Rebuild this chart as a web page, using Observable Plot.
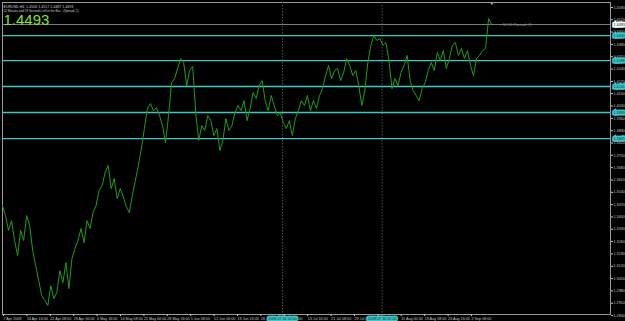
<!DOCTYPE html>
<html><head><meta charset="utf-8">
<script src="https://cdn.jsdelivr.net/npm/d3@7"></script>
<script src="https://cdn.jsdelivr.net/npm/@observablehq/plot@0.6"></script>
<style>html,body{margin:0;padding:0;background:#000;overflow:hidden}</style>
</head><body><div id="chart"></div>
<script>
// EURUSD H4 closes, sampled every 4 bars
const closes = [
1.3465,1.3408,1.3323,1.3379,1.3266,1.3181,1.3323,1.3266,1.3408,1.3351,
1.3209,1.3124,1.3039,1.2953,1.2925,1.2897,1.3010,1.2936,1.2970,1.3095,
1.3027,1.3141,1.2993,1.3164,1.3220,1.3266,1.3334,1.3254,1.3379,1.3334,
1.3425,1.3465,1.3550,1.3578,1.3652,1.3692,1.3561,1.3618,1.3504,1.3561,
1.3516,1.3459,1.3425,1.3521,1.3607,1.3692,1.3788,1.3902,1.4016,1.4044,
1.4004,1.4021,1.3976,1.3919,1.3822,1.3976,1.4163,1.4186,1.4243,1.4300,
1.4277,1.4146,1.4232,1.4254,1.3993,1.3834,1.3919,1.3891,1.3976,1.3947,
1.3862,1.3902,1.3777,1.3834,1.3959,1.3891,1.3919,1.3993,1.4033,1.4004,
1.4061,1.3947,1.4016,1.4107,1.4073,1.4146,1.4175,1.4061,1.4004,1.4090,
1.4033,1.3976,1.3993,1.3936,1.3902,1.3947,1.3862,1.3959,1.4004,1.4061,
1.4033,1.4090,1.4004,1.4061,1.4016,1.4090,1.4129,1.4203,1.4260,1.4186,
1.4232,1.4243,1.4175,1.4220,1.4300,1.4260,1.4203,1.4232,1.4146,1.4033,
1.4118,1.4277,1.4374,1.4430,1.4402,1.4413,1.4374,1.4391,1.4288,1.4129,
1.4186,1.4146,1.4220,1.4260,1.4317,1.4175,1.4118,1.4090,1.4061,1.4129,
1.4163,1.4232,1.4277,1.4232,1.4334,1.4288,1.4345,1.4243,1.4300,1.4374,
1.4391,1.4317,1.4357,1.4300,1.4345,1.4260,1.4203,1.4300,1.4317,1.4345,
1.4357,1.4527,1.4493
];
const barStep = 4;
const xLabels = ["7 Apr 2009","14 Apr 16:00","22 Apr 08:00","29 Apr 00:00","6 May 16:00","14 May 08:00","21 May 00:00","28 May 16:00","5 Jun 08:00","12 Jun 00:00","19 Jun 16:00","26 Jun 08:00","2 Jul 00:00","13 Jul 16:00","21 Jul 08:00","29 Jul 00:00","5 Aug 16:00","11 Aug 00:00","19 Aug 08:00","26 Aug 16:00","2 Sep 08:00"];
const xLabelBars = [0,31,62,93,124,155,186,217,248,279,310,341,372,403,434,465,496,527,558,589,620];
const yTicks = [1.2840,1.2910,1.2980,1.3050,1.3120,1.3190,1.3260,1.3330,1.3400,1.3470,1.3540,1.3610,1.3680,1.3750,1.3820,1.3890,1.3960,1.4030,1.4100,1.4170,1.4240,1.4310,1.4380,1.4450,1.4520,1.4590];
const levels = [1.4430,1.4288,1.4141,1.3993,1.3845];
const bid = 1.4493;
const vLineBars = [371, 503];
const vLineLabels = ["2009.07.06 00:00","2009.07.30 00:00"];
const title1 = "EURUSD,H4  1.4506 1.4517 1.4487 1.4493";
const title2 = "52 Minutes and 53 Seconds Left in the Bar... (Spread: 2)";
const spreadText = "< 52:53 (Spread: 2)";

const data = closes.map((c, i) => ({bar: i * barStep, close: c}));
const lastBar = data[data.length - 1].bar;
const labelMap = new Map(xLabelBars.map((b, i) => [b, xLabels[i]]));
const fs = 3.7;

const chart = Plot.plot({
  width: 625, height: 321,
  marginLeft: 2, marginRight: 15, marginTop: 2, marginBottom: 7,
  style: {background: "#000", fontFamily: "Liberation Sans, Arial, sans-serif", color: "#c8c8c8"},
  x: {domain: [0, 805.5], axis: null},
  y: {domain: [1.2846, 1.4618], axis: null},
  marks: [
    Plot.frame({stroke: "#9a9a9a", strokeWidth: 1}),
    Plot.ruleX(vLineBars, {stroke: "#3d5a44", strokeDasharray: "1.5,1.5", strokeWidth: 1}),
    Plot.ruleY(levels, {stroke: "#3fc6c6", strokeWidth: 1.4}),
    Plot.ruleY([bid], {stroke: "#7a7a7a", strokeWidth: 1}),
    Plot.line(data, {x: "bar", y: "close", stroke: "#1e9e1e", strokeWidth: 1}),
    Plot.axisY({anchor: "right", ticks: yTicks, tickFormat: d => d.toFixed(4), tickSize: 2, tickPadding: 1, fontSize: fs, color: "#c8c8c8", label: null}),
    Plot.axisX({anchor: "bottom", ticks: xLabelBars, tickFormat: d => labelMap.get(d), tickSize: 2, tickPadding: 1, textAnchor: "start", dx: 1, fontSize: fs, color: "#c8c8c8", label: null}),
    Plot.text(levels, {y: d => d, frameAnchor: "right", dx: 3, text: d => d.toFixed(4), textAnchor: "start", fontSize: fs, fill: "#003030", stroke: "#3fc6c6", strokeWidth: 3.2, strokeLinejoin: "miter"}),
    Plot.text([bid], {y: d => d, frameAnchor: "right", dx: 3, text: d => d.toFixed(4), textAnchor: "start", fontSize: fs, fill: "#000", stroke: "#fff", strokeWidth: 3.2, strokeLinejoin: "miter"}),
    Plot.text(vLineBars, {x: d => d, frameAnchor: "bottom", dy: 5, text: (d, i) => vLineLabels[i], fontSize: fs, fill: "#003030", stroke: "#3fc6c6", strokeWidth: 3.2, strokeLinejoin: "miter"}),
    Plot.text([spreadText], {x: lastBar, y: bid, dx: 8, dy: 0, textAnchor: "start", fontSize: fs, fill: "#8a8a8a"}),
    Plot.text(["▼"], {x: lastBar, frameAnchor: "top", dy: 0, fontSize: 4, fill: "#cfcfcf"}),
    Plot.text([title1], {frameAnchor: "top-left", dx: 1, dy: 3, textAnchor: "start", fontSize: 3.6, fill: "#d0d0d0"}),
    Plot.text([title2], {frameAnchor: "top-left", dx: 1, dy: 7.5, textAnchor: "start", fontSize: 3.0, fill: "#d0d0d0"}),
    Plot.text([bid.toFixed(4)], {frameAnchor: "top-left", dx: 1, dy: 12, textAnchor: "start", lineAnchor: "top", fontSize: 15, fill: "#8ee022"})
  ]
});
document.getElementById("chart").appendChild(chart);
</script>
</body></html>
